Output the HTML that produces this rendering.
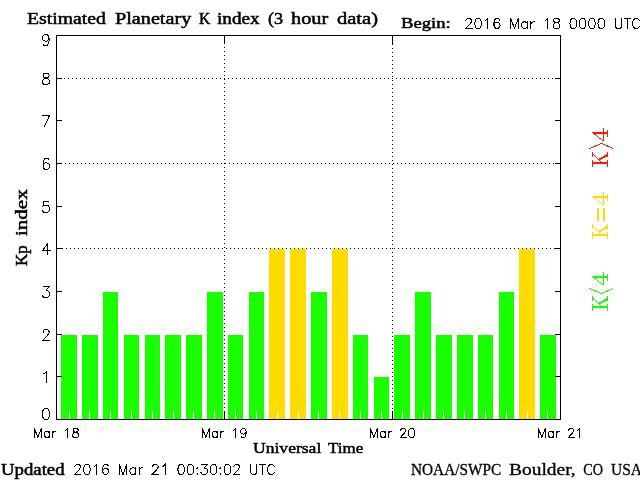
<!DOCTYPE html>
<html><head><meta charset="utf-8"><style>
html,body{margin:0;padding:0;background:#fff;overflow:hidden;}
svg{display:block;will-change:transform;}
</style></head><body>
<svg width="640" height="480" viewBox="0 0 640 480">
<rect width="640" height="480" fill="#fff"/>
<g shape-rendering="crispEdges">
<rect x="61" y="335" width="16" height="84" fill="#1aff00"/>
<rect x="82" y="335" width="16" height="84" fill="#1aff00"/>
<rect x="103" y="292" width="15" height="127" fill="#1aff00"/>
<rect x="124" y="335" width="15" height="84" fill="#1aff00"/>
<rect x="145" y="335" width="15" height="84" fill="#1aff00"/>
<rect x="165" y="335" width="16" height="84" fill="#1aff00"/>
<rect x="186" y="335" width="16" height="84" fill="#1aff00"/>
<rect x="207" y="292" width="16" height="127" fill="#1aff00"/>
<rect x="228" y="335" width="15" height="84" fill="#1aff00"/>
<rect x="249" y="292" width="15" height="127" fill="#1aff00"/>
<rect x="269" y="249" width="16" height="170" fill="#ffdc00"/>
<rect x="290" y="249" width="16" height="170" fill="#ffdc00"/>
<rect x="311" y="292" width="16" height="127" fill="#1aff00"/>
<rect x="332" y="249" width="16" height="170" fill="#ffdc00"/>
<rect x="353" y="335" width="15" height="84" fill="#1aff00"/>
<rect x="374" y="377" width="15" height="42" fill="#1aff00"/>
<rect x="394" y="335" width="16" height="84" fill="#1aff00"/>
<rect x="415" y="292" width="16" height="127" fill="#1aff00"/>
<rect x="436" y="335" width="16" height="84" fill="#1aff00"/>
<rect x="457" y="335" width="16" height="84" fill="#1aff00"/>
<rect x="478" y="335" width="15" height="84" fill="#1aff00"/>
<rect x="499" y="292" width="15" height="127" fill="#1aff00"/>
<rect x="519" y="249" width="16" height="170" fill="#ffdc00"/>
<rect x="540" y="335" width="16" height="84" fill="#1aff00"/>
<rect x="69" y="411" width="1" height="8" fill="#fff"/>
<rect x="89" y="411" width="1" height="8" fill="#fff"/>
<rect x="110" y="411" width="1" height="8" fill="#fff"/>
<rect x="131" y="411" width="1" height="8" fill="#fff"/>
<rect x="152" y="411" width="1" height="8" fill="#fff"/>
<rect x="173" y="411" width="1" height="8" fill="#fff"/>
<rect x="193" y="411" width="1" height="8" fill="#fff"/>
<rect x="214" y="411" width="1" height="8" fill="#fff"/>
<rect x="235" y="411" width="1" height="8" fill="#fff"/>
<rect x="256" y="411" width="1" height="8" fill="#fff"/>
<rect x="277" y="411" width="1" height="8" fill="#fff"/>
<rect x="298" y="411" width="1" height="8" fill="#fff"/>
<rect x="318" y="411" width="1" height="8" fill="#fff"/>
<rect x="339" y="411" width="1" height="8" fill="#fff"/>
<rect x="360" y="411" width="1" height="8" fill="#fff"/>
<rect x="381" y="411" width="1" height="8" fill="#fff"/>
<rect x="402" y="411" width="1" height="8" fill="#fff"/>
<rect x="423" y="411" width="1" height="8" fill="#fff"/>
<rect x="443" y="411" width="1" height="8" fill="#fff"/>
<rect x="464" y="411" width="1" height="8" fill="#fff"/>
<rect x="485" y="411" width="1" height="8" fill="#fff"/>
<rect x="506" y="411" width="1" height="8" fill="#fff"/>
<rect x="527" y="411" width="1" height="8" fill="#fff"/>
<rect x="547" y="411" width="1" height="8" fill="#fff"/>
<path d="M66 248h1v1h-1zM70 248h1v1h-1zM74 248h1v1h-1zM78 248h1v1h-1zM82 248h1v1h-1zM86 248h1v1h-1zM90 248h1v1h-1zM94 248h1v1h-1zM98 248h1v1h-1zM102 248h1v1h-1zM106 248h1v1h-1zM110 248h1v1h-1zM114 248h1v1h-1zM118 248h1v1h-1zM122 248h1v1h-1zM126 248h1v1h-1zM130 248h1v1h-1zM134 248h1v1h-1zM138 248h1v1h-1zM142 248h1v1h-1zM146 248h1v1h-1zM150 248h1v1h-1zM154 248h1v1h-1zM158 248h1v1h-1zM162 248h1v1h-1zM166 248h1v1h-1zM170 248h1v1h-1zM174 248h1v1h-1zM178 248h1v1h-1zM182 248h1v1h-1zM186 248h1v1h-1zM190 248h1v1h-1zM194 248h1v1h-1zM198 248h1v1h-1zM202 248h1v1h-1zM206 248h1v1h-1zM210 248h1v1h-1zM214 248h1v1h-1zM218 248h1v1h-1zM222 248h1v1h-1zM226 248h1v1h-1zM230 248h1v1h-1zM234 248h1v1h-1zM238 248h1v1h-1zM242 248h1v1h-1zM246 248h1v1h-1zM250 248h1v1h-1zM254 248h1v1h-1zM258 248h1v1h-1zM262 248h1v1h-1zM266 248h1v1h-1zM270 248h1v1h-1zM274 248h1v1h-1zM278 248h1v1h-1zM282 248h1v1h-1zM286 248h1v1h-1zM290 248h1v1h-1zM294 248h1v1h-1zM298 248h1v1h-1zM302 248h1v1h-1zM306 248h1v1h-1zM310 248h1v1h-1zM314 248h1v1h-1zM318 248h1v1h-1zM322 248h1v1h-1zM326 248h1v1h-1zM330 248h1v1h-1zM334 248h1v1h-1zM338 248h1v1h-1zM342 248h1v1h-1zM346 248h1v1h-1zM350 248h1v1h-1zM354 248h1v1h-1zM358 248h1v1h-1zM362 248h1v1h-1zM366 248h1v1h-1zM370 248h1v1h-1zM374 248h1v1h-1zM378 248h1v1h-1zM382 248h1v1h-1zM386 248h1v1h-1zM390 248h1v1h-1zM394 248h1v1h-1zM398 248h1v1h-1zM402 248h1v1h-1zM406 248h1v1h-1zM410 248h1v1h-1zM414 248h1v1h-1zM418 248h1v1h-1zM422 248h1v1h-1zM426 248h1v1h-1zM430 248h1v1h-1zM434 248h1v1h-1zM438 248h1v1h-1zM442 248h1v1h-1zM446 248h1v1h-1zM450 248h1v1h-1zM454 248h1v1h-1zM458 248h1v1h-1zM462 248h1v1h-1zM466 248h1v1h-1zM470 248h1v1h-1zM474 248h1v1h-1zM478 248h1v1h-1zM482 248h1v1h-1zM486 248h1v1h-1zM490 248h1v1h-1zM494 248h1v1h-1zM498 248h1v1h-1zM502 248h1v1h-1zM506 248h1v1h-1zM510 248h1v1h-1zM514 248h1v1h-1zM518 248h1v1h-1zM522 248h1v1h-1zM526 248h1v1h-1zM530 248h1v1h-1zM534 248h1v1h-1zM538 248h1v1h-1zM542 248h1v1h-1zM546 248h1v1h-1zM550 248h1v1h-1z" fill="#000"/>
<path d="M65 163h1v1h-1zM69 163h1v1h-1zM73 163h1v1h-1zM77 163h1v1h-1zM81 163h1v1h-1zM85 163h1v1h-1zM89 163h1v1h-1zM93 163h1v1h-1zM97 163h1v1h-1zM101 163h1v1h-1zM105 163h1v1h-1zM109 163h1v1h-1zM113 163h1v1h-1zM117 163h1v1h-1zM121 163h1v1h-1zM125 163h1v1h-1zM129 163h1v1h-1zM133 163h1v1h-1zM137 163h1v1h-1zM141 163h1v1h-1zM145 163h1v1h-1zM149 163h1v1h-1zM153 163h1v1h-1zM157 163h1v1h-1zM161 163h1v1h-1zM165 163h1v1h-1zM169 163h1v1h-1zM173 163h1v1h-1zM177 163h1v1h-1zM181 163h1v1h-1zM185 163h1v1h-1zM189 163h1v1h-1zM193 163h1v1h-1zM197 163h1v1h-1zM201 163h1v1h-1zM205 163h1v1h-1zM209 163h1v1h-1zM213 163h1v1h-1zM217 163h1v1h-1zM221 163h1v1h-1zM225 163h1v1h-1zM229 163h1v1h-1zM233 163h1v1h-1zM237 163h1v1h-1zM241 163h1v1h-1zM245 163h1v1h-1zM249 163h1v1h-1zM253 163h1v1h-1zM257 163h1v1h-1zM261 163h1v1h-1zM265 163h1v1h-1zM269 163h1v1h-1zM273 163h1v1h-1zM277 163h1v1h-1zM281 163h1v1h-1zM285 163h1v1h-1zM289 163h1v1h-1zM293 163h1v1h-1zM297 163h1v1h-1zM301 163h1v1h-1zM305 163h1v1h-1zM309 163h1v1h-1zM313 163h1v1h-1zM317 163h1v1h-1zM321 163h1v1h-1zM325 163h1v1h-1zM329 163h1v1h-1zM333 163h1v1h-1zM337 163h1v1h-1zM341 163h1v1h-1zM345 163h1v1h-1zM349 163h1v1h-1zM353 163h1v1h-1zM357 163h1v1h-1zM361 163h1v1h-1zM365 163h1v1h-1zM369 163h1v1h-1zM373 163h1v1h-1zM377 163h1v1h-1zM381 163h1v1h-1zM385 163h1v1h-1zM389 163h1v1h-1zM393 163h1v1h-1zM397 163h1v1h-1zM401 163h1v1h-1zM405 163h1v1h-1zM409 163h1v1h-1zM413 163h1v1h-1zM417 163h1v1h-1zM421 163h1v1h-1zM425 163h1v1h-1zM429 163h1v1h-1zM433 163h1v1h-1zM437 163h1v1h-1zM441 163h1v1h-1zM445 163h1v1h-1zM449 163h1v1h-1zM453 163h1v1h-1zM457 163h1v1h-1zM461 163h1v1h-1zM465 163h1v1h-1zM469 163h1v1h-1zM473 163h1v1h-1zM477 163h1v1h-1zM481 163h1v1h-1zM485 163h1v1h-1zM489 163h1v1h-1zM493 163h1v1h-1zM497 163h1v1h-1zM501 163h1v1h-1zM505 163h1v1h-1zM509 163h1v1h-1zM513 163h1v1h-1zM517 163h1v1h-1zM521 163h1v1h-1zM525 163h1v1h-1zM529 163h1v1h-1zM533 163h1v1h-1zM537 163h1v1h-1zM541 163h1v1h-1zM545 163h1v1h-1zM549 163h1v1h-1zM553 163h1v1h-1z" fill="#000"/>
<path d="M64 78h1v1h-1zM68 78h1v1h-1zM72 78h1v1h-1zM76 78h1v1h-1zM80 78h1v1h-1zM84 78h1v1h-1zM88 78h1v1h-1zM92 78h1v1h-1zM96 78h1v1h-1zM100 78h1v1h-1zM104 78h1v1h-1zM108 78h1v1h-1zM112 78h1v1h-1zM116 78h1v1h-1zM120 78h1v1h-1zM124 78h1v1h-1zM128 78h1v1h-1zM132 78h1v1h-1zM136 78h1v1h-1zM140 78h1v1h-1zM144 78h1v1h-1zM148 78h1v1h-1zM152 78h1v1h-1zM156 78h1v1h-1zM160 78h1v1h-1zM164 78h1v1h-1zM168 78h1v1h-1zM172 78h1v1h-1zM176 78h1v1h-1zM180 78h1v1h-1zM184 78h1v1h-1zM188 78h1v1h-1zM192 78h1v1h-1zM196 78h1v1h-1zM200 78h1v1h-1zM204 78h1v1h-1zM208 78h1v1h-1zM212 78h1v1h-1zM216 78h1v1h-1zM220 78h1v1h-1zM224 78h1v1h-1zM228 78h1v1h-1zM232 78h1v1h-1zM236 78h1v1h-1zM240 78h1v1h-1zM244 78h1v1h-1zM248 78h1v1h-1zM252 78h1v1h-1zM256 78h1v1h-1zM260 78h1v1h-1zM264 78h1v1h-1zM268 78h1v1h-1zM272 78h1v1h-1zM276 78h1v1h-1zM280 78h1v1h-1zM284 78h1v1h-1zM288 78h1v1h-1zM292 78h1v1h-1zM296 78h1v1h-1zM300 78h1v1h-1zM304 78h1v1h-1zM308 78h1v1h-1zM312 78h1v1h-1zM316 78h1v1h-1zM320 78h1v1h-1zM324 78h1v1h-1zM328 78h1v1h-1zM332 78h1v1h-1zM336 78h1v1h-1zM340 78h1v1h-1zM344 78h1v1h-1zM348 78h1v1h-1zM352 78h1v1h-1zM356 78h1v1h-1zM360 78h1v1h-1zM364 78h1v1h-1zM368 78h1v1h-1zM372 78h1v1h-1zM376 78h1v1h-1zM380 78h1v1h-1zM384 78h1v1h-1zM388 78h1v1h-1zM392 78h1v1h-1zM396 78h1v1h-1zM400 78h1v1h-1zM404 78h1v1h-1zM408 78h1v1h-1zM412 78h1v1h-1zM416 78h1v1h-1zM420 78h1v1h-1zM424 78h1v1h-1zM428 78h1v1h-1zM432 78h1v1h-1zM436 78h1v1h-1zM440 78h1v1h-1zM444 78h1v1h-1zM448 78h1v1h-1zM452 78h1v1h-1zM456 78h1v1h-1zM460 78h1v1h-1zM464 78h1v1h-1zM468 78h1v1h-1zM472 78h1v1h-1zM476 78h1v1h-1zM480 78h1v1h-1zM484 78h1v1h-1zM488 78h1v1h-1zM492 78h1v1h-1zM496 78h1v1h-1zM500 78h1v1h-1zM504 78h1v1h-1zM508 78h1v1h-1zM512 78h1v1h-1zM516 78h1v1h-1zM520 78h1v1h-1zM524 78h1v1h-1zM528 78h1v1h-1zM532 78h1v1h-1zM536 78h1v1h-1zM540 78h1v1h-1zM544 78h1v1h-1zM548 78h1v1h-1zM552 78h1v1h-1z" fill="#000"/>
<path d="M224 47h1v1h-1zM224 51h1v1h-1zM224 55h1v1h-1zM224 59h1v1h-1zM224 63h1v1h-1zM224 67h1v1h-1zM224 71h1v1h-1zM224 75h1v1h-1zM224 79h1v1h-1zM224 83h1v1h-1zM224 87h1v1h-1zM224 91h1v1h-1zM224 95h1v1h-1zM224 99h1v1h-1zM224 103h1v1h-1zM224 107h1v1h-1zM224 111h1v1h-1zM224 115h1v1h-1zM224 119h1v1h-1zM224 123h1v1h-1zM224 127h1v1h-1zM224 131h1v1h-1zM224 135h1v1h-1zM224 139h1v1h-1zM224 143h1v1h-1zM224 147h1v1h-1zM224 151h1v1h-1zM224 155h1v1h-1zM224 159h1v1h-1zM224 163h1v1h-1zM224 167h1v1h-1zM224 171h1v1h-1zM224 175h1v1h-1zM224 179h1v1h-1zM224 183h1v1h-1zM224 187h1v1h-1zM224 191h1v1h-1zM224 195h1v1h-1zM224 199h1v1h-1zM224 203h1v1h-1zM224 207h1v1h-1zM224 211h1v1h-1zM224 215h1v1h-1zM224 219h1v1h-1zM224 223h1v1h-1zM224 227h1v1h-1zM224 231h1v1h-1zM224 235h1v1h-1zM224 239h1v1h-1zM224 243h1v1h-1zM224 247h1v1h-1zM224 251h1v1h-1zM224 255h1v1h-1zM224 259h1v1h-1zM224 263h1v1h-1zM224 267h1v1h-1zM224 271h1v1h-1zM224 275h1v1h-1zM224 279h1v1h-1zM224 283h1v1h-1zM224 287h1v1h-1zM224 291h1v1h-1zM224 295h1v1h-1zM224 299h1v1h-1zM224 303h1v1h-1zM224 307h1v1h-1zM224 311h1v1h-1zM224 315h1v1h-1zM224 319h1v1h-1zM224 323h1v1h-1zM224 327h1v1h-1zM224 331h1v1h-1zM224 335h1v1h-1zM224 339h1v1h-1zM224 343h1v1h-1zM224 347h1v1h-1zM224 351h1v1h-1zM224 355h1v1h-1zM224 359h1v1h-1zM224 363h1v1h-1zM224 367h1v1h-1zM224 371h1v1h-1zM224 375h1v1h-1zM224 379h1v1h-1zM224 383h1v1h-1zM224 387h1v1h-1zM224 391h1v1h-1zM224 395h1v1h-1zM224 399h1v1h-1zM224 403h1v1h-1zM224 407h1v1h-1z" fill="#000"/>
<rect x="224" y="36" width="1" height="8" fill="#000"/>
<rect x="224" y="411" width="1" height="8" fill="#000"/>
<path d="M392 48h1v1h-1zM392 52h1v1h-1zM392 56h1v1h-1zM392 60h1v1h-1zM392 64h1v1h-1zM392 68h1v1h-1zM392 72h1v1h-1zM392 76h1v1h-1zM392 80h1v1h-1zM392 84h1v1h-1zM392 88h1v1h-1zM392 92h1v1h-1zM392 96h1v1h-1zM392 100h1v1h-1zM392 104h1v1h-1zM392 108h1v1h-1zM392 112h1v1h-1zM392 116h1v1h-1zM392 120h1v1h-1zM392 124h1v1h-1zM392 128h1v1h-1zM392 132h1v1h-1zM392 136h1v1h-1zM392 140h1v1h-1zM392 144h1v1h-1zM392 148h1v1h-1zM392 152h1v1h-1zM392 156h1v1h-1zM392 160h1v1h-1zM392 164h1v1h-1zM392 168h1v1h-1zM392 172h1v1h-1zM392 176h1v1h-1zM392 180h1v1h-1zM392 184h1v1h-1zM392 188h1v1h-1zM392 192h1v1h-1zM392 196h1v1h-1zM392 200h1v1h-1zM392 204h1v1h-1zM392 208h1v1h-1zM392 212h1v1h-1zM392 216h1v1h-1zM392 220h1v1h-1zM392 224h1v1h-1zM392 228h1v1h-1zM392 232h1v1h-1zM392 236h1v1h-1zM392 240h1v1h-1zM392 244h1v1h-1zM392 248h1v1h-1zM392 252h1v1h-1zM392 256h1v1h-1zM392 260h1v1h-1zM392 264h1v1h-1zM392 268h1v1h-1zM392 272h1v1h-1zM392 276h1v1h-1zM392 280h1v1h-1zM392 284h1v1h-1zM392 288h1v1h-1zM392 292h1v1h-1zM392 296h1v1h-1zM392 300h1v1h-1zM392 304h1v1h-1zM392 308h1v1h-1zM392 312h1v1h-1zM392 316h1v1h-1zM392 320h1v1h-1zM392 324h1v1h-1zM392 328h1v1h-1zM392 332h1v1h-1zM392 336h1v1h-1zM392 340h1v1h-1zM392 344h1v1h-1zM392 348h1v1h-1zM392 352h1v1h-1zM392 356h1v1h-1zM392 360h1v1h-1zM392 364h1v1h-1zM392 368h1v1h-1zM392 372h1v1h-1zM392 376h1v1h-1zM392 380h1v1h-1zM392 384h1v1h-1zM392 388h1v1h-1zM392 392h1v1h-1zM392 396h1v1h-1zM392 400h1v1h-1zM392 404h1v1h-1zM392 408h1v1h-1z" fill="#000"/>
<rect x="392" y="36" width="1" height="9" fill="#000"/>
<rect x="392" y="411" width="1" height="8" fill="#000"/>
<rect x="56" y="376" width="6" height="1" fill="#000"/>
<rect x="555" y="376" width="6" height="1" fill="#000"/>
<rect x="56" y="334" width="6" height="1" fill="#000"/>
<rect x="555" y="334" width="6" height="1" fill="#000"/>
<rect x="56" y="291" width="6" height="1" fill="#000"/>
<rect x="555" y="291" width="6" height="1" fill="#000"/>
<rect x="56" y="248" width="7" height="1" fill="#000"/>
<rect x="554" y="248" width="7" height="1" fill="#000"/>
<rect x="56" y="206" width="6" height="1" fill="#000"/>
<rect x="555" y="206" width="6" height="1" fill="#000"/>
<rect x="56" y="163" width="6" height="1" fill="#000"/>
<rect x="555" y="163" width="6" height="1" fill="#000"/>
<rect x="56" y="120" width="6" height="1" fill="#000"/>
<rect x="555" y="120" width="6" height="1" fill="#000"/>
<rect x="56" y="78" width="6" height="1" fill="#000"/>
<rect x="555" y="78" width="6" height="1" fill="#000"/>
<rect x="56.5" y="35.5" width="504" height="384" fill="none" stroke="#000" stroke-width="1"/>
<polygon points="592,132 608,132 608,134 595,134 592,133" fill="#ff1a00"/>
<rect x="607" y="130" width="1" height="7" fill="#ff1a00"/>
<rect x="603" y="128" width="1" height="13" fill="#ff1a00"/>
<rect x="593" y="133" width="1" height="1" fill="#ff1a00"/>
<rect x="594" y="134" width="1" height="1" fill="#ff1a00"/>
<rect x="595" y="134" width="1" height="1" fill="#ff1a00"/>
<rect x="596" y="135" width="1" height="1" fill="#ff1a00"/>
<rect x="597" y="136" width="1" height="1" fill="#ff1a00"/>
<rect x="598" y="137" width="1" height="1" fill="#ff1a00"/>
<rect x="599" y="138" width="1" height="1" fill="#ff1a00"/>
<rect x="600" y="138" width="1" height="1" fill="#ff1a00"/>
<rect x="601" y="139" width="1" height="1" fill="#ff1a00"/>
<rect x="602" y="140" width="1" height="1" fill="#ff1a00"/>
<polyline points="589.5,148.5 601.5,143.5 613.5,148.5" fill="none" stroke="#ff1a00" stroke-width="1"/>
<rect x="592" y="162" width="16" height="2" fill="#ff1a00"/>
<rect x="592" y="160" width="1" height="7" fill="#ff1a00"/>
<rect x="607" y="160" width="1" height="7" fill="#ff1a00"/>
<rect x="592" y="152" width="1" height="5" fill="#ff1a00"/>
<rect x="607" y="152" width="1" height="5" fill="#ff1a00"/>
<rect x="593" y="154" width="1" height="1" fill="#ff1a00"/>
<rect x="594" y="155" width="1" height="1" fill="#ff1a00"/>
<rect x="595" y="156" width="1" height="1" fill="#ff1a00"/>
<rect x="596" y="157" width="1" height="1" fill="#ff1a00"/>
<rect x="597" y="158" width="1" height="1" fill="#ff1a00"/>
<rect x="598" y="159" width="1" height="1" fill="#ff1a00"/>
<rect x="599" y="160" width="1" height="1" fill="#ff1a00"/>
<rect x="600" y="161" width="1" height="1" fill="#ff1a00"/>
<polygon points="599,160.5 599,158.3 608,153.7 608,156.2" fill="#ff1a00"/>
<polygon points="592,196 608,196 608,198 595,198 592,197" fill="#ffdc00"/>
<rect x="607" y="194" width="1" height="7" fill="#ffdc00"/>
<rect x="603" y="192" width="1" height="13" fill="#ffdc00"/>
<rect x="593" y="197" width="1" height="1" fill="#ffdc00"/>
<rect x="594" y="198" width="1" height="1" fill="#ffdc00"/>
<rect x="595" y="198" width="1" height="1" fill="#ffdc00"/>
<rect x="596" y="199" width="1" height="1" fill="#ffdc00"/>
<rect x="597" y="200" width="1" height="1" fill="#ffdc00"/>
<rect x="598" y="201" width="1" height="1" fill="#ffdc00"/>
<rect x="599" y="202" width="1" height="1" fill="#ffdc00"/>
<rect x="600" y="202" width="1" height="1" fill="#ffdc00"/>
<rect x="601" y="203" width="1" height="1" fill="#ffdc00"/>
<rect x="602" y="204" width="1" height="1" fill="#ffdc00"/>
<rect x="597" y="208" width="2" height="13" fill="#ffdc00"/>
<rect x="603" y="208" width="2" height="13" fill="#ffdc00"/>
<rect x="592" y="234" width="16" height="2" fill="#ffdc00"/>
<rect x="592" y="232" width="1" height="7" fill="#ffdc00"/>
<rect x="607" y="232" width="1" height="7" fill="#ffdc00"/>
<rect x="592" y="224" width="1" height="5" fill="#ffdc00"/>
<rect x="607" y="224" width="1" height="5" fill="#ffdc00"/>
<rect x="593" y="226" width="1" height="1" fill="#ffdc00"/>
<rect x="594" y="227" width="1" height="1" fill="#ffdc00"/>
<rect x="595" y="228" width="1" height="1" fill="#ffdc00"/>
<rect x="596" y="229" width="1" height="1" fill="#ffdc00"/>
<rect x="597" y="230" width="1" height="1" fill="#ffdc00"/>
<rect x="598" y="231" width="1" height="1" fill="#ffdc00"/>
<rect x="599" y="232" width="1" height="1" fill="#ffdc00"/>
<rect x="600" y="233" width="1" height="1" fill="#ffdc00"/>
<polygon points="599,232.5 599,230.3 608,225.7 608,228.2" fill="#ffdc00"/>
<polygon points="592,276 608,276 608,278 595,278 592,277" fill="#1aff00"/>
<rect x="607" y="274" width="1" height="7" fill="#1aff00"/>
<rect x="603" y="272" width="1" height="13" fill="#1aff00"/>
<rect x="593" y="277" width="1" height="1" fill="#1aff00"/>
<rect x="594" y="278" width="1" height="1" fill="#1aff00"/>
<rect x="595" y="278" width="1" height="1" fill="#1aff00"/>
<rect x="596" y="279" width="1" height="1" fill="#1aff00"/>
<rect x="597" y="280" width="1" height="1" fill="#1aff00"/>
<rect x="598" y="281" width="1" height="1" fill="#1aff00"/>
<rect x="599" y="282" width="1" height="1" fill="#1aff00"/>
<rect x="600" y="282" width="1" height="1" fill="#1aff00"/>
<rect x="601" y="283" width="1" height="1" fill="#1aff00"/>
<rect x="602" y="284" width="1" height="1" fill="#1aff00"/>
<polyline points="589.5,288.5 601.5,293.5 613.5,288.5" fill="none" stroke="#1aff00" stroke-width="1"/>
<rect x="592" y="306" width="16" height="2" fill="#1aff00"/>
<rect x="592" y="304" width="1" height="7" fill="#1aff00"/>
<rect x="607" y="304" width="1" height="7" fill="#1aff00"/>
<rect x="592" y="296" width="1" height="5" fill="#1aff00"/>
<rect x="607" y="296" width="1" height="5" fill="#1aff00"/>
<rect x="593" y="298" width="1" height="1" fill="#1aff00"/>
<rect x="594" y="299" width="1" height="1" fill="#1aff00"/>
<rect x="595" y="300" width="1" height="1" fill="#1aff00"/>
<rect x="596" y="301" width="1" height="1" fill="#1aff00"/>
<rect x="597" y="302" width="1" height="1" fill="#1aff00"/>
<rect x="598" y="303" width="1" height="1" fill="#1aff00"/>
<rect x="599" y="304" width="1" height="1" fill="#1aff00"/>
<rect x="600" y="305" width="1" height="1" fill="#1aff00"/>
<polygon points="599,304.5 599,302.3 608,297.7 608,300.2" fill="#1aff00"/>
</g>
<path d="M45.50 408.50 L44.00 409.02 L43.00 410.59 L42.50 413.21 L42.50 414.78 L43.00 417.40 L44.00 418.98 L45.50 419.50 L46.50 419.50 L48.00 418.98 L49.00 417.40 L49.50 414.78 L49.50 413.21 L49.00 410.59 L48.00 409.02 L46.50 408.50 L45.50 408.50M44.00 373.59 L45.00 373.07 L46.50 371.50 L46.50 382.50M43.00 332.12 L43.00 331.59 L43.50 330.54 L44.00 330.02 L45.00 329.50 L47.00 329.50 L48.00 330.02 L48.50 330.54 L49.00 331.59 L49.00 332.64 L48.50 333.69 L47.50 335.26 L42.50 340.50 L49.50 340.50M43.50 286.50 L49.00 286.50 L46.00 290.69 L47.50 290.69 L48.50 291.21 L49.00 291.74 L49.50 293.31 L49.50 294.36 L49.00 295.93 L48.00 296.98 L46.50 297.50 L45.00 297.50 L43.50 296.98 L43.00 296.45 L42.50 295.40M47.50 243.50 L42.50 250.83 L50.00 250.83M47.50 243.50 L47.50 254.50M48.50 201.50 L43.50 201.50 L43.00 206.21 L43.50 205.69 L45.00 205.16 L46.50 205.16 L48.00 205.69 L49.00 206.74 L49.50 208.31 L49.50 209.36 L49.00 210.93 L48.00 211.98 L46.50 212.50 L45.00 212.50 L43.50 211.98 L43.00 211.45 L42.50 210.40M49.00 160.07 L48.50 159.02 L47.00 158.50 L46.00 158.50 L44.50 159.02 L43.50 160.59 L43.00 163.21 L43.00 165.83 L43.50 167.93 L44.50 168.98 L46.00 169.50 L46.50 169.50 L48.00 168.98 L49.00 167.93 L49.50 166.36 L49.50 165.83 L49.00 164.26 L48.00 163.21 L46.50 162.69 L46.00 162.69 L44.50 163.21 L43.50 164.26 L43.00 165.83M49.50 115.50 L44.50 126.50M42.50 115.50 L49.50 115.50M45.00 73.50 L43.50 74.02 L43.00 75.07 L43.00 76.12 L43.50 77.16 L44.50 77.69 L46.50 78.21 L48.00 78.74 L49.00 79.78 L49.50 80.83 L49.50 82.40 L49.00 83.45 L48.50 83.98 L47.00 84.50 L45.00 84.50 L43.50 83.98 L43.00 83.45 L42.50 82.40 L42.50 80.83 L43.00 79.78 L44.00 78.74 L45.50 78.21 L47.50 77.69 L48.50 77.16 L49.00 76.12 L49.00 75.07 L48.50 74.02 L47.00 73.50 L45.00 73.50M49.00 38.16 L48.50 39.74 L47.50 40.78 L46.00 41.31 L45.50 41.31 L44.00 40.78 L43.00 39.74 L42.50 38.16 L42.50 37.64 L43.00 36.07 L44.00 35.02 L45.50 34.50 L46.00 34.50 L47.50 35.02 L48.50 36.07 L49.00 38.16 L49.00 40.78 L48.50 43.40 L47.50 44.98 L46.00 45.50 L45.00 45.50 L43.50 44.98 L43.00 43.93M34.50 428.47 L34.50 437.50M34.50 428.47 L37.85 437.50M41.20 428.47 L37.85 437.50M41.20 428.47 L41.20 437.50M49.16 431.48 L49.16 437.50M49.16 432.77 L48.33 431.91 L47.49 431.48 L46.23 431.48 L45.39 431.91 L44.56 432.77 L44.14 434.06 L44.14 434.92 L44.56 436.21 L45.39 437.07 L46.23 437.50 L47.49 437.50 L48.33 437.07 L49.16 436.21M52.52 431.48 L52.52 437.50M52.52 434.06 L52.94 432.77 L53.77 431.91 L54.61 431.48 L55.87 431.48M65.51 430.19 L66.34 429.76 L67.60 428.47 L67.60 437.50M74.72 428.47 L73.47 428.90 L73.05 429.76 L73.05 430.62 L73.47 431.48 L74.31 431.91 L75.98 432.34 L77.24 432.77 L78.08 433.63 L78.50 434.49 L78.50 435.78 L78.08 436.64 L77.66 437.07 L76.40 437.50 L74.72 437.50 L73.47 437.07 L73.05 436.64 L72.63 435.78 L72.63 434.49 L73.05 433.63 L73.89 432.77 L75.14 432.34 L76.82 431.91 L77.66 431.48 L78.08 430.62 L78.08 429.76 L77.66 428.90 L76.40 428.47 L74.72 428.47M202.50 428.47 L202.50 437.50M202.50 428.47 L205.85 437.50M209.20 428.47 L205.85 437.50M209.20 428.47 L209.20 437.50M217.17 431.48 L217.17 437.50M217.17 432.77 L216.33 431.91 L215.49 431.48 L214.23 431.48 L213.39 431.91 L212.56 432.77 L212.14 434.06 L212.14 434.92 L212.56 436.21 L213.39 437.07 L214.23 437.50 L215.49 437.50 L216.33 437.07 L217.17 436.21M220.52 431.48 L220.52 437.50M220.52 434.06 L220.94 432.77 L221.77 431.91 L222.61 431.48 L223.87 431.48M233.51 430.19 L234.34 429.76 L235.60 428.47 L235.60 437.50M246.08 431.48 L245.66 432.77 L244.82 433.63 L243.56 434.06 L243.14 434.06 L241.89 433.63 L241.05 432.77 L240.63 431.48 L240.63 431.05 L241.05 429.76 L241.89 428.90 L243.14 428.47 L243.56 428.47 L244.82 428.90 L245.66 429.76 L246.08 431.48 L246.08 433.63 L245.66 435.78 L244.82 437.07 L243.56 437.50 L242.72 437.50 L241.47 437.07 L241.05 436.21M370.50 428.47 L370.50 437.50M370.50 428.47 L373.85 437.50M377.20 428.47 L373.85 437.50M377.20 428.47 L377.20 437.50M385.17 431.48 L385.17 437.50M385.17 432.77 L384.33 431.91 L383.49 431.48 L382.23 431.48 L381.39 431.91 L380.56 432.77 L380.14 434.06 L380.14 434.92 L380.56 436.21 L381.39 437.07 L382.23 437.50 L383.49 437.50 L384.33 437.07 L385.17 436.21M388.52 431.48 L388.52 437.50M388.52 434.06 L388.94 432.77 L389.77 431.91 L390.61 431.48 L391.87 431.48M400.67 430.62 L400.67 430.19 L401.09 429.33 L401.51 428.90 L402.34 428.47 L404.02 428.47 L404.86 428.90 L405.28 429.33 L405.70 430.19 L405.70 431.05 L405.28 431.91 L404.44 433.20 L400.25 437.50 L406.12 437.50M411.14 428.47 L409.89 428.90 L409.05 430.19 L408.63 432.34 L408.63 433.63 L409.05 435.78 L409.89 437.07 L411.14 437.50 L411.98 437.50 L413.24 437.07 L414.08 435.78 L414.50 433.63 L414.50 432.34 L414.08 430.19 L413.24 428.90 L411.98 428.47 L411.14 428.47M538.50 428.47 L538.50 437.50M538.50 428.47 L541.85 437.50M545.20 428.47 L541.85 437.50M545.20 428.47 L545.20 437.50M553.16 431.48 L553.16 437.50M553.16 432.77 L552.33 431.91 L551.49 431.48 L550.23 431.48 L549.39 431.91 L548.56 432.77 L548.14 434.06 L548.14 434.92 L548.56 436.21 L549.39 437.07 L550.23 437.50 L551.49 437.50 L552.33 437.07 L553.16 436.21M556.52 431.48 L556.52 437.50M556.52 434.06 L556.94 432.77 L557.77 431.91 L558.61 431.48 L559.87 431.48M568.67 430.62 L568.67 430.19 L569.09 429.33 L569.51 428.90 L570.34 428.47 L572.02 428.47 L572.86 428.90 L573.28 429.33 L573.70 430.19 L573.70 431.05 L573.28 431.91 L572.44 433.20 L568.25 437.50 L574.12 437.50M577.89 430.19 L578.72 429.76 L579.98 428.47 L579.98 437.50M465.97 20.88 L465.97 20.41 L466.43 19.46 L466.90 18.98 L467.83 18.50 L469.70 18.50 L470.63 18.98 L471.10 19.46 L471.56 20.41 L471.56 21.36 L471.10 22.31 L470.16 23.74 L465.50 28.50 L472.03 28.50M477.63 18.50 L476.23 18.98 L475.30 20.41 L474.83 22.79 L474.83 24.22 L475.30 26.60 L476.23 28.02 L477.63 28.50 L478.56 28.50 L479.96 28.02 L480.89 26.60 L481.36 24.22 L481.36 22.79 L480.89 20.41 L479.96 18.98 L478.56 18.50 L477.63 18.50M485.56 20.41 L486.49 19.93 L487.89 18.50 L487.89 28.50M499.55 19.93 L499.09 18.98 L497.69 18.50 L496.75 18.50 L495.36 18.98 L494.42 20.41 L493.96 22.79 L493.96 25.17 L494.42 27.07 L495.36 28.02 L496.75 28.50 L497.22 28.50 L498.62 28.02 L499.55 27.07 L500.02 25.64 L500.02 25.17 L499.55 23.74 L498.62 22.79 L497.22 22.31 L496.75 22.31 L495.36 22.79 L494.42 23.74 L493.96 25.17M510.75 18.50 L510.75 28.50M510.75 18.50 L514.48 28.50M518.21 18.50 L514.48 28.50M518.21 18.50 L518.21 28.50M527.08 21.84 L527.08 28.50M527.08 23.26 L526.14 22.31 L525.21 21.84 L523.81 21.84 L522.88 22.31 L521.95 23.26 L521.48 24.69 L521.48 25.64 L521.95 27.07 L522.88 28.02 L523.81 28.50 L525.21 28.50 L526.14 28.02 L527.08 27.07M530.81 21.84 L530.81 28.50M530.81 24.69 L531.27 23.26 L532.21 22.31 L533.14 21.84 L534.54 21.84M545.27 20.41 L546.20 19.93 L547.60 18.50 L547.60 28.50M555.53 18.50 L554.13 18.98 L553.67 19.93 L553.67 20.88 L554.13 21.84 L555.07 22.31 L556.93 22.79 L558.33 23.26 L559.26 24.22 L559.73 25.17 L559.73 26.60 L559.26 27.55 L558.80 28.02 L557.40 28.50 L555.53 28.50 L554.13 28.02 L553.67 27.55 L553.20 26.60 L553.20 25.17 L553.67 24.22 L554.60 23.26 L556.00 22.79 L557.86 22.31 L558.80 21.84 L559.26 20.88 L559.26 19.93 L558.80 18.98 L557.40 18.50 L555.53 18.50M572.79 18.50 L571.39 18.98 L570.46 20.41 L569.99 22.79 L569.99 24.22 L570.46 26.60 L571.39 28.02 L572.79 28.50 L573.73 28.50 L575.12 28.02 L576.06 26.60 L576.52 24.22 L576.52 22.79 L576.06 20.41 L575.12 18.98 L573.73 18.50 L572.79 18.50M582.12 18.50 L580.72 18.98 L579.79 20.41 L579.32 22.79 L579.32 24.22 L579.79 26.60 L580.72 28.02 L582.12 28.50 L583.05 28.50 L584.45 28.02 L585.39 26.60 L585.85 24.22 L585.85 22.79 L585.39 20.41 L584.45 18.98 L583.05 18.50 L582.12 18.50M591.45 18.50 L590.05 18.98 L589.12 20.41 L588.65 22.79 L588.65 24.22 L589.12 26.60 L590.05 28.02 L591.45 28.50 L592.38 28.50 L593.78 28.02 L594.72 26.60 L595.18 24.22 L595.18 22.79 L594.72 20.41 L593.78 18.98 L592.38 18.50 L591.45 18.50M600.78 18.50 L599.38 18.98 L598.45 20.41 L597.98 22.79 L597.98 24.22 L598.45 26.60 L599.38 28.02 L600.78 28.50 L601.71 28.50 L603.11 28.02 L604.05 26.60 L604.51 24.22 L604.51 22.79 L604.05 20.41 L603.11 18.98 L601.71 18.50 L600.78 18.50M615.24 18.50 L615.24 25.64 L615.71 27.07 L616.64 28.02 L618.04 28.50 L618.97 28.50 L620.37 28.02 L621.31 27.07 L621.77 25.64 L621.77 18.50M627.37 18.50 L627.37 28.50M624.11 18.50 L630.64 18.50M639.50 20.88 L639.03 19.93 L638.10 18.98 L637.17 18.50 L635.30 18.50 L634.37 18.98 L633.44 19.93 L632.97 20.88 L632.50 22.31 L632.50 24.69 L632.97 26.12 L633.44 27.07 L634.37 28.02 L635.30 28.50 L637.17 28.50 L638.10 28.02 L639.03 27.07 L639.50 26.12M74.96 466.88 L74.96 466.41 L75.42 465.46 L75.89 464.98 L76.81 464.50 L78.66 464.50 L79.58 464.98 L80.04 465.46 L80.50 466.41 L80.50 467.36 L80.04 468.31 L79.12 469.74 L74.50 474.50 L80.97 474.50M86.51 464.50 L85.12 464.98 L84.20 466.41 L83.74 468.79 L83.74 470.22 L84.20 472.60 L85.12 474.02 L86.51 474.50 L87.43 474.50 L88.82 474.02 L89.74 472.60 L90.20 470.22 L90.20 468.79 L89.74 466.41 L88.82 464.98 L87.43 464.50 L86.51 464.50M94.36 466.41 L95.29 465.93 L96.67 464.50 L96.67 474.50M108.22 465.93 L107.76 464.98 L106.37 464.50 L105.45 464.50 L104.06 464.98 L103.14 466.41 L102.68 468.79 L102.68 471.17 L103.14 473.07 L104.06 474.02 L105.45 474.50 L105.91 474.50 L107.29 474.02 L108.22 473.07 L108.68 471.64 L108.68 471.17 L108.22 469.74 L107.29 468.79 L105.91 468.31 L105.45 468.31 L104.06 468.79 L103.14 469.74 L102.68 471.17M119.30 464.50 L119.30 474.50M119.30 464.50 L123.00 474.50M126.69 464.50 L123.00 474.50M126.69 464.50 L126.69 474.50M135.47 467.84 L135.47 474.50M135.47 469.26 L134.55 468.31 L133.62 467.84 L132.24 467.84 L131.31 468.31 L130.39 469.26 L129.93 470.69 L129.93 471.64 L130.39 473.07 L131.31 474.02 L132.24 474.50 L133.62 474.50 L134.55 474.02 L135.47 473.07M139.17 467.84 L139.17 474.50M139.17 470.69 L139.63 469.26 L140.55 468.31 L141.47 467.84 L142.86 467.84M152.56 466.88 L152.56 466.41 L153.02 465.46 L153.48 464.98 L154.41 464.50 L156.26 464.50 L157.18 464.98 L157.64 465.46 L158.10 466.41 L158.10 467.36 L157.64 468.31 L156.72 469.74 L152.10 474.50 L158.56 474.50M162.72 466.41 L163.65 465.93 L165.03 464.50 L165.03 474.50M180.74 464.50 L179.35 464.98 L178.43 466.41 L177.96 468.79 L177.96 470.22 L178.43 472.60 L179.35 474.02 L180.74 474.50 L181.66 474.50 L183.05 474.02 L183.97 472.60 L184.43 470.22 L184.43 468.79 L183.97 466.41 L183.05 464.98 L181.66 464.50 L180.74 464.50M189.97 464.50 L188.59 464.98 L187.66 466.41 L187.20 468.79 L187.20 470.22 L187.66 472.60 L188.59 474.02 L189.97 474.50 L190.90 474.50 L192.28 474.02 L193.21 472.60 L193.67 470.22 L193.67 468.79 L193.21 466.41 L192.28 464.98 L190.90 464.50 L189.97 464.50M197.36 467.84 L196.90 468.31 L197.36 468.79 L197.83 468.31 L197.36 467.84M197.36 473.55 L196.90 474.02 L197.36 474.50 L197.83 474.02 L197.36 473.55M201.98 464.50 L207.06 464.50 L204.29 468.31 L205.68 468.31 L206.60 468.79 L207.06 469.26 L207.53 470.69 L207.53 471.64 L207.06 473.07 L206.14 474.02 L204.75 474.50 L203.37 474.50 L201.98 474.02 L201.52 473.55 L201.06 472.60M213.07 464.50 L211.68 464.98 L210.76 466.41 L210.30 468.79 L210.30 470.22 L210.76 472.60 L211.68 474.02 L213.07 474.50 L213.99 474.50 L215.38 474.02 L216.30 472.60 L216.76 470.22 L216.76 468.79 L216.30 466.41 L215.38 464.98 L213.99 464.50 L213.07 464.50M220.46 467.84 L220.00 468.31 L220.46 468.79 L220.92 468.31 L220.46 467.84M220.46 473.55 L220.00 474.02 L220.46 474.50 L220.92 474.02 L220.46 473.55M226.92 464.50 L225.54 464.98 L224.62 466.41 L224.15 468.79 L224.15 470.22 L224.62 472.60 L225.54 474.02 L226.92 474.50 L227.85 474.50 L229.23 474.02 L230.16 472.60 L230.62 470.22 L230.62 468.79 L230.16 466.41 L229.23 464.98 L227.85 464.50 L226.92 464.50M233.85 466.88 L233.85 466.41 L234.32 465.46 L234.78 464.98 L235.70 464.50 L237.55 464.50 L238.47 464.98 L238.93 465.46 L239.40 466.41 L239.40 467.36 L238.93 468.31 L238.01 469.74 L233.39 474.50 L239.86 474.50M250.48 464.50 L250.48 471.64 L250.94 473.07 L251.87 474.02 L253.25 474.50 L254.18 474.50 L255.56 474.02 L256.49 473.07 L256.95 471.64 L256.95 464.50M262.49 464.50 L262.49 474.50M259.26 464.50 L265.72 464.50M274.50 466.88 L274.04 465.93 L273.11 464.98 L272.19 464.50 L270.34 464.50 L269.42 464.98 L268.50 465.93 L268.03 466.88 L267.57 468.31 L267.57 470.69 L268.03 472.12 L268.50 473.07 L269.42 474.02 L270.34 474.50 L272.19 474.50 L273.11 474.02 L274.04 473.07 L274.50 472.12" fill="none" stroke="#000" stroke-width="1" stroke-linecap="square" stroke-linejoin="miter" shape-rendering="crispEdges"/>
<g font-family="Liberation Serif, serif" fill="#000">
<text x="27.00" y="24" font-weight="normal" font-size="17.0" stroke="#000" stroke-width="0.5" textLength="78.98" lengthAdjust="spacingAndGlyphs">Estimated</text>
<text x="115.00" y="24" font-weight="normal" font-size="17.0" stroke="#000" stroke-width="0.5" textLength="76.24" lengthAdjust="spacingAndGlyphs">Planetary</text>
<text x="199.00" y="24" font-weight="normal" font-size="17.0" stroke="#000" stroke-width="0.5" textLength="11.26" lengthAdjust="spacingAndGlyphs">K</text>
<text x="217.00" y="24" font-weight="normal" font-size="17.0" stroke="#000" stroke-width="0.5" textLength="42.75" lengthAdjust="spacingAndGlyphs">index</text>
<text x="268.00" y="24" font-weight="normal" font-size="17.0" stroke="#000" stroke-width="0.5" textLength="15.18" lengthAdjust="spacingAndGlyphs">(3</text>
<text x="291.00" y="24" font-weight="normal" font-size="17.0" stroke="#000" stroke-width="0.5" textLength="37.21" lengthAdjust="spacingAndGlyphs">hour</text>
<text x="337.00" y="24" font-weight="normal" font-size="17.0" stroke="#000" stroke-width="0.5" textLength="40.98" lengthAdjust="spacingAndGlyphs">data)</text>
<text x="401.00" y="28" font-weight="normal" font-size="15.5" stroke="#000" stroke-width="0.5" textLength="49.61" lengthAdjust="spacingAndGlyphs">Begin:</text>
<text x="253.00" y="453" font-weight="normal" font-size="15.5" stroke="#000" stroke-width="0.5" textLength="68.30" lengthAdjust="spacingAndGlyphs">Universal</text>
<text x="328.00" y="453" font-weight="normal" font-size="15.5" stroke="#000" stroke-width="0.5" textLength="35.19" lengthAdjust="spacingAndGlyphs">Time</text>
<text x="1.00" y="475" font-weight="normal" font-size="17.0" stroke="#000" stroke-width="0.5" textLength="63.55" lengthAdjust="spacingAndGlyphs">Updated</text>
<text x="411.00" y="475" font-weight="normal" font-size="16.5" stroke="#000" stroke-width="0.3" textLength="90.17" lengthAdjust="spacingAndGlyphs">NOAA/SWPC</text>
<text x="509.00" y="475" font-weight="normal" font-size="16.5" stroke="#000" stroke-width="0.3" textLength="66.74" lengthAdjust="spacingAndGlyphs">Boulder,</text>
<text x="583.14" y="475" font-weight="normal" font-size="16.5" stroke="#000" stroke-width="0.3" textLength="19.80" lengthAdjust="spacingAndGlyphs">CO</text>
<text x="611.00" y="475" font-weight="normal" font-size="16.5" stroke="#000" stroke-width="0.3" textLength="31.01" lengthAdjust="spacingAndGlyphs">USA</text>
<g transform="translate(27,266) rotate(-90)"><text x="0.00" y="0" font-weight="normal" font-size="17.0" stroke="#000" stroke-width="0.5" textLength="20.78" lengthAdjust="spacingAndGlyphs">Kp</text><text x="30.00" y="0" font-weight="normal" font-size="17.0" stroke="#000" stroke-width="0.5" textLength="46.73" lengthAdjust="spacingAndGlyphs">index</text></g>
</g>
</svg>
</body></html>
